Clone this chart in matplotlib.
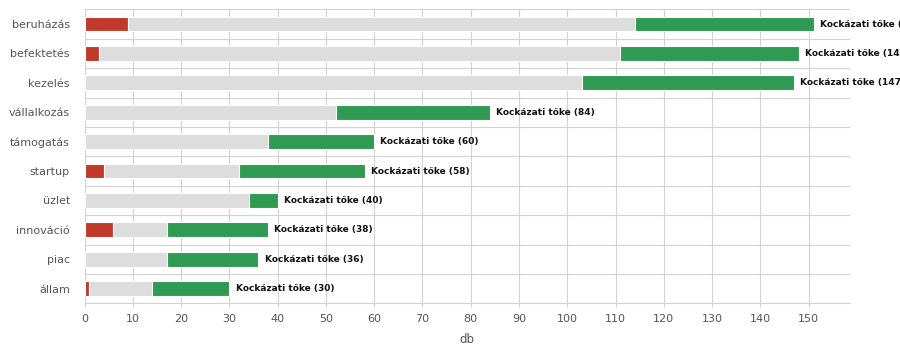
import matplotlib
matplotlib.use("Agg")
import matplotlib.pyplot as plt
import numpy as np

categories = ["beruházás", "befektetés", "kezelés", "vállalkozás", "támogatás",
              "startup", "üzlet", "innováció", "piac", "állam"]
red_vals = [9, 3, 0, 0, 0, 4, 0, 6, 0, 1]
gray_vals = [105, 108, 103, 52, 38, 28, 34, 11, 17, 13]
green_vals = [37, 37, 44, 32, 22, 26, 6, 21, 19, 16]
label_name = "Kockázati tőke"
xlabel = "db"

RED = "#c0392b"
GRAY = "#dddddd"
GREEN = "#2f9a52"
TXT = "#555555"

fig = plt.figure(figsize=(9, 3.6), dpi=100)
ax = fig.add_axes([0.0939, 0.1575, 0.9444 - 0.0939, 0.974 - 0.1575])

n = len(categories)
y = np.arange(n)[::-1]
red = np.array(red_vals)
gray = np.array(gray_vals)
green = np.array(green_vals)
totals = red + gray + green

h = 0.5
ax.barh(y, red, height=h, color=RED, edgecolor="white", linewidth=0.8, zorder=3)
ax.barh(y, gray, left=red, height=h, color=GRAY, edgecolor="white", linewidth=0.8, zorder=3)
ax.barh(y, green, left=red + gray, height=h, color=GREEN, edgecolor="white", linewidth=0.8, zorder=3)

for yi, t in zip(y, totals):
    ax.annotate(f"{label_name} ({t})", xy=(t, yi), xytext=(4.5, 0), textcoords="offset points",
                va="center", ha="left", fontsize=6.5, fontweight="bold", color="#111111",
                annotation_clip=False)

ax.set_xlim(0, max(totals) * 1.05)
ax.set_ylim(-0.5, n - 0.5)
ax.set_yticks(y)
ax.set_yticklabels(categories)
ax.set_yticks(np.arange(-0.5, n, 1.0), minor=True)
ax.set_xticks(np.arange(0, 151, 10))

ax.grid(axis="x", which="major", color="#d3d3d3", linewidth=0.8, zorder=0)
ax.grid(axis="y", which="minor", color="#d3d3d3", linewidth=0.8, zorder=0)
ax.tick_params(axis="y", which="both", length=0, labelsize=8, labelcolor=TXT, pad=10.5)
ax.tick_params(axis="x", length=3, color="#d3d3d3", labelsize=8, labelcolor=TXT, pad=5)
for s in ["top", "right"]:
    ax.spines[s].set_visible(False)
for s in ["left", "bottom"]:
    ax.spines[s].set_color("#d3d3d3")
    ax.spines[s].set_linewidth(0.8)

ax.set_xlabel(xlabel, fontsize=8.5, color=TXT, labelpad=6)

fig.savefig("out.png", dpi=100)
